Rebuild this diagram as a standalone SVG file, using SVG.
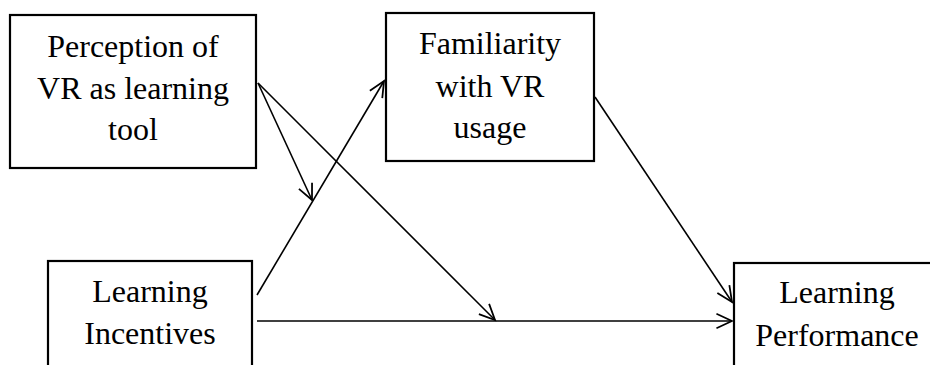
<svg xmlns="http://www.w3.org/2000/svg" width="930" height="365" viewBox="0 0 930 365">
<style>
.box{fill:#fff;stroke:#000;stroke-width:2.2}
.lbl{font-family:"Liberation Serif","Times New Roman",serif;font-size:32px;fill:#000;text-anchor:middle}
.con{stroke:#000;stroke-width:1.6;fill:none;marker-end:url(#arr)}
</style>
<defs>
<marker id="arr" markerUnits="userSpaceOnUse" markerWidth="20" markerHeight="20" viewBox="-16 -8 18 16" refX="0" refY="0" orient="auto">
<path d="M-14,-6.5 L0,0 L-14,6.5" fill="none" stroke="#000" stroke-width="1.6"/>
</marker>
</defs>
<rect width="930" height="365" fill="#fff"/>
<g id="perception">
<rect class="box" x="10" y="15" width="246" height="153"/>
<text class="lbl" x="133" y="57">Perception of</text>
<text class="lbl" x="133" y="99">VR as learning</text>
<text class="lbl" x="133" y="140">tool</text>
</g>
<g id="familiarity">
<rect class="box" x="386" y="13" width="208" height="148"/>
<text class="lbl" x="490" y="54">Familiarity</text>
<text class="lbl" x="490" y="97">with VR</text>
<text class="lbl" x="490" y="138">usage</text>
</g>
<g id="incentives">
<rect class="box" x="48" y="261" width="204" height="130"/>
<text class="lbl" x="150" y="302">Learning</text>
<text class="lbl" x="150" y="344">Incentives</text>
</g>
<g id="performance">
<rect class="box" x="734" y="263" width="210" height="130"/>
<text class="lbl" x="837" y="303">Learning</text>
<text class="lbl" x="837" y="346">Performance</text>
</g>
<g id="connectors">
<line class="con" x1="258" y1="83" x2="312" y2="200"/>
<line class="con" x1="258" y1="83" x2="495" y2="320"/>
<line class="con" x1="257" y1="295" x2="384" y2="81"/>
<line class="con" x1="595" y1="97" x2="732" y2="302"/>
<line class="con" x1="257" y1="321" x2="732" y2="321"/>
</g>
</svg>
